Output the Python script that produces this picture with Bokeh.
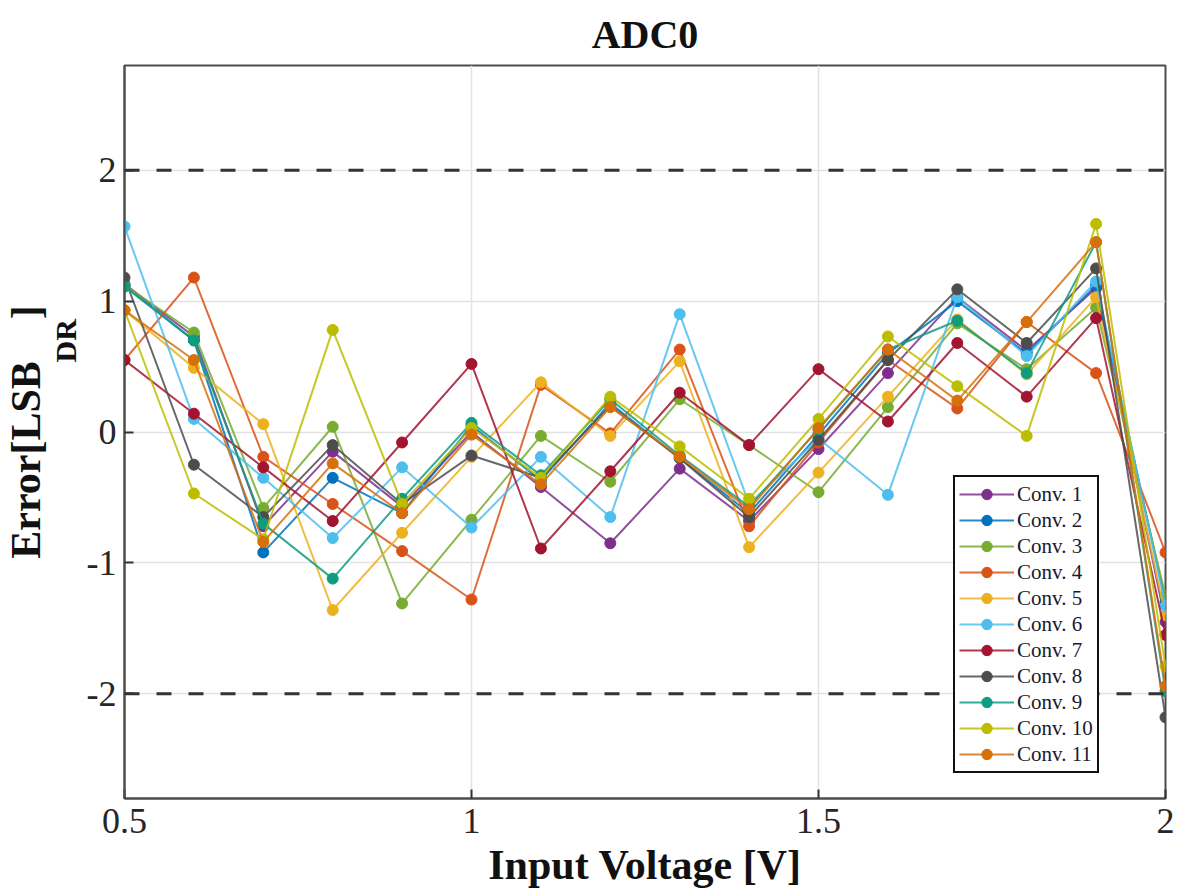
import math
from bokeh.plotting import figure
from bokeh.models import (Span, Legend, LegendItem, FixedTicker, Title,
                          Range1d, CustomJSTickFormatter)
from bokeh.embed import file_html
from bokeh.resources import INLINE

# ---------------- data ----------------
x_volts = [0.5, 0.6, 0.7, 0.8, 0.9, 1.0, 1.1, 1.2, 1.3, 1.4, 1.5, 1.6, 1.7, 1.8, 1.9, 2.0]

conv1 = [1.13, 0.73, -0.72, -0.15, -0.57, 0.00, -0.42, -0.85, -0.28, -0.68, -0.13, 0.45, 1.03, 0.62, 1.10, -1.45]
conv2 = [1.12, 0.70, -0.92, -0.35, -0.62, 0.05, -0.37, 0.22, -0.20, -0.62, -0.02, 0.60, 1.00, 0.60, 1.12, -1.30]
conv3 = [1.12, 0.76, -0.58, 0.04, -1.31, -0.67, -0.03, -0.38, 0.25, -0.10, -0.46, 0.19, 0.83, 0.48, 0.95, -1.25]
conv4 = [0.55, 1.18, -0.19, -0.55, -0.91, -1.28, 0.36, -0.01, 0.63, -0.72, -0.08, 0.55, 0.18, 0.84, 0.45, -0.92]
conv5 = [0.93, 0.49, 0.06, -1.36, -0.77, -0.19, 0.38, -0.03, 0.54, -0.88, -0.31, 0.27, 0.86, 0.44, 1.03, -1.40]
conv6 = [1.57, 0.10, -0.35, -0.81, -0.27, -0.73, -0.19, -0.65, 0.90, -0.55, -0.05, -0.48, 1.03, 0.58, 1.15, -1.33]
conv7 = [0.55, 0.14, -0.27, -0.68, -0.08, 0.52, -0.89, -0.30, 0.30, -0.10, 0.48, 0.08, 0.68, 0.27, 0.87, -1.55]
conv8 = [1.18, -0.25, -0.65, -0.10, -0.55, -0.18, -0.35, 0.20, -0.20, -0.65, -0.06, 0.55, 1.09, 0.68, 1.25, -2.18]
conv9 = [1.11, 0.70, -0.70, -1.12, -0.51, 0.07, -0.33, 0.25, -0.18, -0.57, 0.02, 0.63, 0.85, 0.45, 1.45, -1.98]
conv10 = [0.93, -0.47, -0.82, 0.78, -0.55, 0.03, -0.35, 0.27, -0.11, -0.51, 0.10, 0.73, 0.35, -0.03, 1.59, -1.79]
conv11 = [0.93, 0.55, -0.84, -0.24, -0.62, -0.02, -0.40, 0.19, -0.19, -0.59, 0.03, 0.63, 0.24, 0.84, 1.45, -1.94]

series_names = ["Conv. 1", "Conv. 2", "Conv. 3", "Conv. 4", "Conv. 5", "Conv. 6",
                "Conv. 7", "Conv. 8", "Conv. 9", "Conv. 10", "Conv. 11"]
series_values = [conv1, conv2, conv3, conv4, conv5, conv6, conv7, conv8, conv9, conv10, conv11]
series_colors = ["#7E2F8E", "#0072BD", "#77AC30", "#D95319", "#EDB120", "#4DBEEE",
                 "#A2142F", "#4D4D4D", "#0F9D80", "#BDBD00", "#D8700A"]

x_ticks = [0.5, 1.0, 1.5, 2.0]
y_ticks = [-2, -1, 0, 1, 2]
limit_lines = [2, -2]

FONT = "Liberation Serif"
NB = "\u00a0"

# ---------------- figure ----------------
p = figure(width=1177, height=895, output_backend="svg", toolbar_location=None,
           x_range=Range1d(0.5, 2.0), y_range=Range1d(-2.8, 2.8),
           min_border_left=124, min_border_right=12, min_border_top=64, min_border_bottom=97)
p.title.text = "ADC0"
p.title.align = "center"
p.title.text_font = FONT
p.title.text_font_style = "bold"
p.title.text_font_size = "40px"
p.title.text_color = "#111111"
p.title.standoff = 18
p.background_fill_color = "white"
p.border_fill_color = "white"
p.outline_line_color = "#4D4D4D"
p.outline_line_width = 2

fmt = CustomJSTickFormatter(code="return tick.toString();")
for ax, ticks in ((p.xaxis[0], x_ticks), (p.yaxis[0], y_ticks)):
    ax.ticker = FixedTicker(ticks=ticks)
    ax.formatter = fmt
    ax.major_tick_in = 9
    ax.major_tick_out = 0
    ax.minor_tick_line_color = None
    ax.axis_line_color = "#4D4D4D"
    ax.axis_line_width = 2
    ax.major_tick_line_color = "#333333"
    ax.major_tick_line_width = 2
    ax.major_label_text_font = FONT
    ax.major_label_text_font_size = "36px"
    ax.major_label_text_color = "#262626"
p.xaxis[0].major_label_standoff = 10
p.yaxis[0].major_label_standoff = 8

p.xaxis[0].axis_label = "Input Voltage [V]"
p.xaxis[0].axis_label_text_font = FONT
p.xaxis[0].axis_label_text_font_style = "bold"
p.xaxis[0].axis_label_text_font_size = "42px"
p.xaxis[0].axis_label_text_color = "#111111"
p.xaxis[0].axis_label_standoff = 6

# y-axis label "Error[LSB_DR]" built from two side titles (subscript closer to the axis)
p.add_layout(Title(text="DR", align="left", offset=436, standoff=0, vertical_align="top",
                   text_font=FONT, text_font_style="bold", text_font_size="30px",
                   text_color="#111111"), "left")
p.add_layout(Title(text="Error[LSB" + NB * 4 + "]", align="center", standoff=0,
                   text_font=FONT, text_font_style="bold", text_font_size="42px",
                   text_color="#111111"), "left")

p.xgrid.ticker = FixedTicker(ticks=x_ticks)
p.ygrid.ticker = FixedTicker(ticks=y_ticks)
p.grid.grid_line_color = "#E2E2E2"
p.grid.grid_line_width = 1.5

for v in limit_lines:
    p.add_layout(Span(location=v, dimension="width", line_color="#333333",
                      line_width=3, line_dash="15 17"))

items = []
for name, vals, col in zip(series_names, series_values, series_colors):
    lr = p.line(x_volts, vals, line_color=col, line_width=2, line_alpha=0.85)
    cr = p.scatter(x_volts, vals, size=11, fill_color=col, line_color=col)
    items.append(LegendItem(label=name, renderers=[lr, cr]))

legend = Legend(items=items, location=(829, 25), label_text_font=FONT,
                label_text_font_size="21px", label_text_color="#1a1a2e",
                glyph_width=55, glyph_height=26, label_height=26, spacing=0,
                padding=4, margin=0, label_standoff=3,
                border_line_color="#111111", border_line_width=2, border_line_alpha=1,
                background_fill_color="white", background_fill_alpha=1)
p.add_layout(legend)

open("out.html", "w").write(file_html(p, INLINE))
